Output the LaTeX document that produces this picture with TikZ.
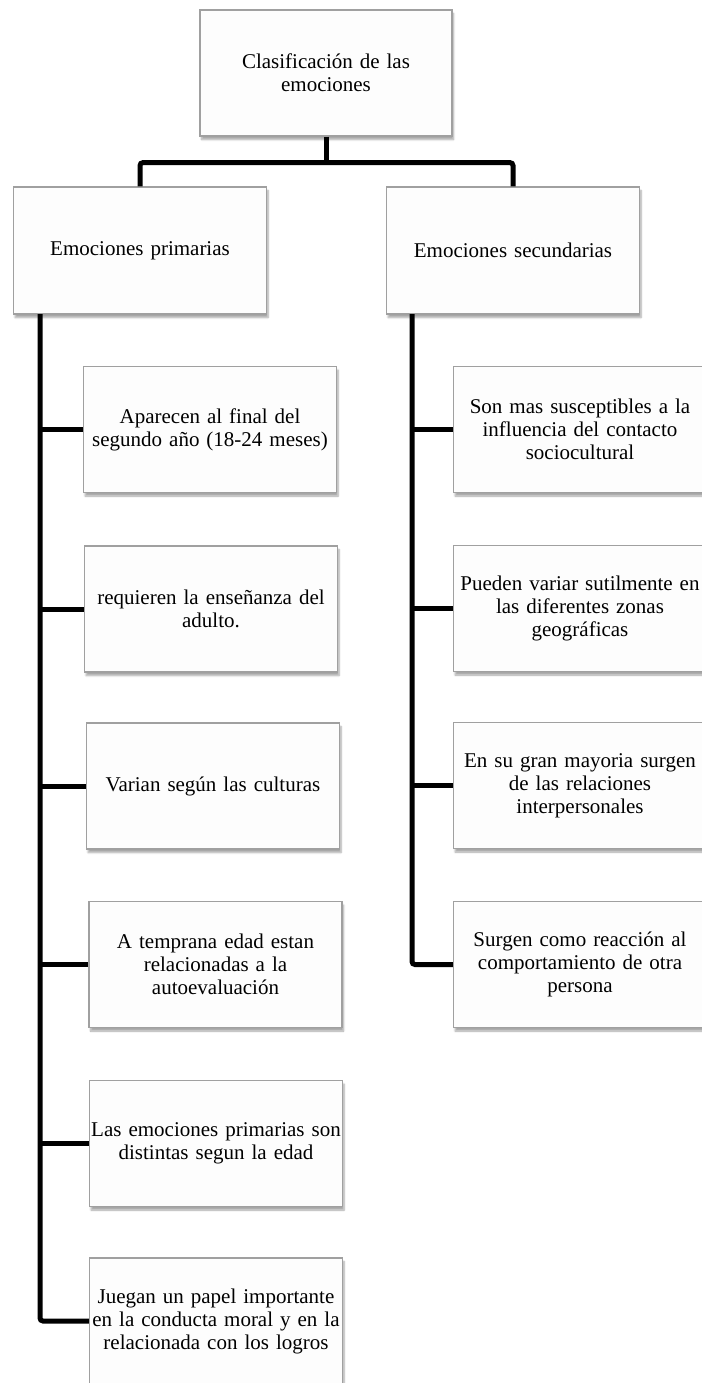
\documentclass[tikz,border=0pt]{standalone}
\usepackage{fontspec}
\setmainfont{Liberation Serif}
\usetikzlibrary{shadows.blur,calc}
\definecolor{boxgray}{HTML}{A0A0A0}
\definecolor{boxfill}{HTML}{FDFDFD}
\tikzset{
  box/.style={draw=boxgray, line width=1.2pt, fill=boxfill, minimum width=253pt,
    minimum height=126pt, align=center, inner sep=1pt, text width=250pt,
    font=\fontsize{21}{23}\selectfont,
    blur shadow={shadow xshift=1.5pt, shadow yshift=-3.5pt, shadow blur steps=6, shadow opacity=35}},
  conn/.style={line width=5pt, black, rounded corners=3pt}
}
\begin{document}
\begin{tikzpicture}[x=1pt,y=-1pt]
\useasboundingbox (0,0) rectangle (701,1383);
\node[box, minimum width=250pt] (root) at (326,73) {Clasificación de las\\emociones};
\node[box, minimum height=127pt] (prim) at (140,250.5) {Emociones primarias};
\node[box, minimum height=127pt] (sec) at (513,250.5) {Emociones secundarias};
\node[box] (c1) at (210,429.5) {Aparecen al final del\\segundo año (18-24 meses)};
\node[box] (c2) at (211,609) {requieren la enseñanza del\\adulto.};
\node[box] (c3) at (213,786) {Varian según las culturas};
\node[box] (c4) at (215.5,964.5) {A temprana edad estan\\relacionadas a la\\autoevaluación};
\node[box] (c5) at (216,1143.5) {Las emociones primarias son\\distintas segun la edad};
\node[box] (c6) at (216,1321) {Juegan un papel importante\\en la conducta moral y en la\\relacionada con los logros};
\node[box] (d1) at (580,429.5) {Son mas susceptibles a la\\influencia del contacto\\sociocultural};
\node[box] (d2) at (580,608.5) {Pueden variar sutilmente en\\las diferentes zonas\\geográficas};
\node[box] (d3) at (580,785.5) {En su gran mayoria surgen\\de las relaciones\\interpersonales};
\node[box] (d4) at (580,964.5) {Surgen como reacción al\\comportamiento de otra\\persona};
% top connectors
\coordinate (bus) at ($(root.south)+(0,26)$);
\draw[conn] (root.south) -- (bus);
\draw[conn] (prim.north) |- (bus) -| (sec.north);
% left spine
\coordinate (lsp) at (40,314);
\draw[conn] (lsp) |- (c6.west);
\foreach \c in {c1,c2,c3,c4,c5} \draw[line width=5pt] (lsp |- \c.west) -- (\c.west);
% right spine
\coordinate (rsp) at (412,314);
\draw[conn] (rsp) |- (d4.west);
\foreach \c in {d1,d2,d3} \draw[line width=5pt] (rsp |- \c.west) -- (\c.west);
\end{tikzpicture}
\end{document}
